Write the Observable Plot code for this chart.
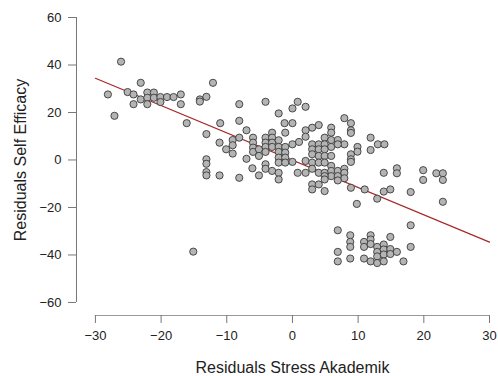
<!DOCTYPE html>
<html>
<head>
<meta charset="utf-8">
<script src="https://cdn.jsdelivr.net/npm/d3@7"></script>
<script src="https://cdn.jsdelivr.net/npm/@observablehq/plot@0.6"></script>
<style>
  html, body { margin: 0; padding: 0; background: #fff; }
</style>
</head>
<body>
<div id="chart"></div>
<script>
// Residuals Stress Akademik (x) vs Residuals Self Efficacy (y)
const residStress = [
  -26.1,-28.1,-27.1,-23.1,-25.1,-24.2,-24.2,-23.1,-22.1,-22.1,-22.1,-21.1,-21.1,-20.1,-20.1,-19.1,-18.1,-17.0,-17.0,-16.1,
  -14.1,-14.1,-13.1,-12.1,-11.0,-13.1,-11.1,-15.1,-13.1,-13.1,-13.1,-13.1,-11.1,-8.1,
  -8.1,-4.1,0.0,0.8,-2.1,-8.1,-1.2,0.0,-7.0,-1.1,-9.1,-8.1,-6.0,-6.0,-6.0,-6.0,-9.1,-10.1,-9.1,-5.1,-5.1,
  -4.1,-4.1,-4.1,-4.1,-3.1,-3.1,-3.1,-3.1,-2.1,-2.1,-2.1,-2.1,-2.1,-1.1,-1.1,-1.1,-1.1,0.0,0.0,1.0,
  -7.0,-4.1,-4.1,-6.1,-3.1,-5.1,-2.1,-2.1,0.8,
  2.0,7.9,8.9,8.9,8.9,4.0,3.0,2.0,2.0,5.9,5.9,4.9,5.9,6.9,7.9,6.9,3.0,4.0,4.9,5.9,3.0,4.0,4.9,3.0,4.0,4.9,5.9,
  2.0,3.0,4.0,4.9,8.9,8.9,8.9,9.9,9.9,11.9,11.9,13.0,14.0,
  2.0,3.0,4.0,4.9,5.9,5.9,5.9,4.9,4.9,6.9,6.9,7.9,7.9,7.9,6.9,3.0,4.0,3.0,4.9,8.9,11.0,12.9,13.9,14.9,9.8,
  13.9,15.9,15.9,19.9,19.9,21.9,22.9,22.9,22.9,18.0,
  6.9,6.9,6.9,8.8,8.8,8.8,8.8,10.9,10.9,10.9,11.9,11.9,11.9,11.9,12.9,12.9,12.9,12.9,13.9,13.9,13.9,13.9,14.9,14.9,14.9,15.9,16.9,18.0,18.0
];
const residSelfEfficacy = [
  41.4,27.6,18.6,32.5,28.6,27.6,23.5,25.5,28.4,26.2,23.5,28.4,26.2,26.5,24.4,26.5,26.5,27.6,23.5,15.5,
  25.5,24.6,26.6,32.5,15.5,10.9,7.3,-38.6,0.3,-1.6,-5.1,-6.5,-6.5,-7.5,
  23.5,24.5,21.7,24.5,19.6,16.5,15.5,15.5,12.5,11.5,8.4,9.4,9.4,7.3,5.2,3.4,6.2,4.5,2.7,4.5,1.7,
  9.4,7.3,5.5,3.4,11.5,9.4,7.3,5.5,8.3,5.5,3.4,1.0,-1.1,5.5,3.1,1.0,-1.1,6.6,-0.8,7.6,
  0.5,-1.8,-3.7,-3.5,-4.6,-6.5,-5.4,-8.2,-5.4,
  22.4,17.6,15.5,12.5,11.4,14.7,13.6,12.5,9.8,13.6,11.5,9.4,8.4,8.4,6.6,6.6,6.6,6.6,6.6,5.5,4.5,4.5,4.5,2.4,1.7,1.7,1.7,
  -0.4,-1.1,-1.1,-1.1,2.4,0.3,-0.8,5.5,3.5,9.4,4.2,6.6,6.6,
  -5.4,-3.7,-5.4,-5.4,-2.5,-4.6,-6.8,-6.8,-8.2,-4.6,-6.8,-3.7,-5.4,-7.7,-8.6,-10.3,-10.3,-12.4,-13.1,-11.7,-12.4,-16.3,-13.3,-12.4,-18.5,
  -5.4,-3.5,-5.6,-4.3,-8.4,-5.6,-5.6,-8.4,-17.6,-13.5,
  -29.6,-38.7,-42.7,-31.7,-34.5,-36.6,-41.5,-34.5,-36.6,-41.5,-31.7,-33.5,-35.4,-42.7,-36.6,-38.7,-40.6,-43.4,-35.6,-37.7,-39.8,-42.7,-32.4,-37.5,-39.6,-38.7,-42.7,-27.5,-36.6
];
// Fitted line end points
const fitX = [-30, 30];
const fitY = [34.4, -34.6];
const xTicks = [-30, -20, -10, 0, 10, 20, 30];
const yTicks = [-60, -40, -20, 0, 20, 40, 60];
const xTitle = "Residuals Stress Akademik";
const yTitle = "Residuals Self Efficacy";

const points = residStress.map((x, i) => ({sx: x, sy: residSelfEfficacy[i]}));
const fit = fitX.map((x, i) => ({fx: x, fy: fitY[i]}));

const xMin = -32.88, yMin = -65.49;

const chart = Plot.plot({
  width: 498,
  height: 376,
  marginTop: 17,
  marginBottom: 61,
  marginLeft: 76,
  marginRight: 9,
  style: {fontFamily: "'Liberation Sans', Arial, sans-serif", fontSize: "13px", color: "#222", background: "#fff"},
  x: {domain: [xMin, 30]},
  y: {domain: [yMin, 60]},
  marks: [
    Plot.ruleX([xMin], {y1: -60, y2: 60, stroke: "#777", strokeWidth: 1}),
    Plot.ruleY([yMin], {x1: -30, x2: 30, stroke: "#999", strokeWidth: 1}),
    Plot.axisY({ticks: yTicks, tickSize: 8, tickPadding: 7, label: null, stroke: "#777", fill: "#222", fontSize: 13}),
    Plot.axisX({ticks: xTicks, tickSize: 8, tickPadding: 7, label: null, stroke: "#777", fill: "#222", fontSize: 13}),
    Plot.line(fit, {x: "fx", y: "fy", stroke: "#a82828", strokeWidth: 1.2}),
    Plot.dot(points, {x: "sx", y: "sy", r: 3.6, fill: "#b4b4b4", stroke: "#3a3a3a", strokeWidth: 0.9}),
    Plot.text([xTitle], {x: () => 0, frameAnchor: "bottom", dy: 57, text: d => d, fontSize: 16, fill: "#222", textAnchor: "middle"}),
    Plot.text([yTitle], {y: () => 0, frameAnchor: "left", dx: -56, rotate: -90, text: d => d, fontSize: 16, fill: "#222", textAnchor: "middle"})
  ]
});
document.getElementById("chart").appendChild(chart);
</script>
</body>
</html>
